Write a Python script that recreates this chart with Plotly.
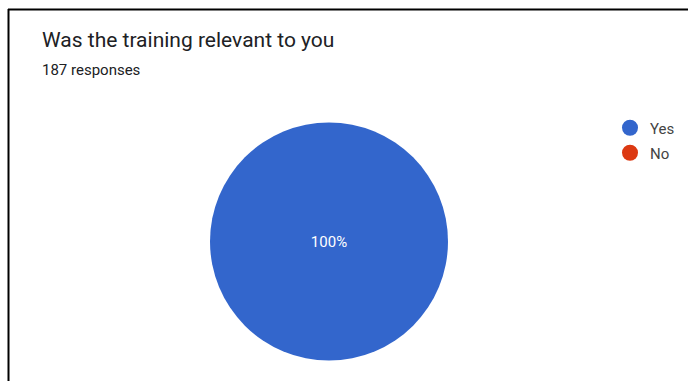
import plotly.graph_objects as go

W, H = 688, 381

title_text = "Was the training relevant to you"
subtitle_text = "187 responses"
labels = ["Yes", "No"]
values = [187, 0]
colors = ["#3366cc", "#dc3912"]

fig = go.Figure()

fig.add_trace(go.Pie(
    labels=labels,
    values=values,
    marker=dict(colors=colors, line=dict(width=0)),
    textinfo="percent",
    texttemplate="%{percent:.0%}",
    textposition="inside",
    insidetextfont=dict(color="white", size=15, family="Roboto, Arial, sans-serif"),
    sort=False,
    direction="clockwise",
    showlegend=False,
    hoverinfo="label+value+percent",
    domain=dict(x=[210 / W, 448 / W], y=[1 - 362 / H, 1 - 121 / H]),
))

# Legend entries as circle markers (Google Forms style)
legend_names = ["legend", "legend2"]
for lab, col, lg in zip(labels, colors, legend_names):
    fig.add_trace(go.Scatter(
        x=[None], y=[None], mode="markers", name=lab,
        marker=dict(symbol="circle", size=16, color=col),
        showlegend=True, legend=lg, hoverinfo="skip",
    ))

legend_font = dict(family="Roboto, Arial, sans-serif", size=15, color="#444444")
fig.update_layout(
    width=W, height=H,
    margin=dict(l=0, r=0, t=0, b=0),
    paper_bgcolor="white", plot_bgcolor="white",
    xaxis=dict(visible=False, range=[0, 1]),
    yaxis=dict(visible=False, range=[0, 1]),
    legend=dict(x=610 / W, y=1 - 128 / H, xanchor="left", yanchor="middle",
                font=legend_font, bgcolor="rgba(0,0,0,0)", itemclick=False,
                borderwidth=0, tracegroupgap=0),
    legend2=dict(x=610 / W, y=1 - 153 / H, xanchor="left", yanchor="middle",
                 font=legend_font, bgcolor="rgba(0,0,0,0)", itemclick=False,
                 borderwidth=0),
    annotations=[
        dict(text=title_text, x=40 / W, y=1 - 26 / H, xref="paper", yref="paper",
             xanchor="left", yanchor="top", showarrow=False,
             font=dict(family="Roboto, Arial, sans-serif", size=21, color="#202124")),
        dict(text=subtitle_text, x=40 / W, y=1 - 59 / H, xref="paper", yref="paper",
             xanchor="left", yanchor="top", showarrow=False,
             font=dict(family="Roboto, Arial, sans-serif", size=15, color="#202124")),
    ],
    shapes=[
        dict(type="line", xref="paper", yref="paper", x0=8 / W, x1=1, y0=1 - 9.5 / H, y1=1 - 9.5 / H,
             line=dict(color="black", width=2)),
        dict(type="line", xref="paper", yref="paper", x0=8.5 / W, x1=8.5 / W, y0=0, y1=1 - 9 / H,
             line=dict(color="black", width=2)),
    ],
)

fig.write_html("out.html")
